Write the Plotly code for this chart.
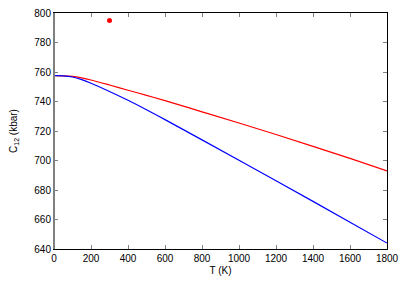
import plotly.graph_objects as go

T = [0, 50, 100, 150, 200, 300, 400, 500, 600, 800, 1000, 1200, 1400, 1600, 1800]
c12_red = [757.5, 757.4, 757.0, 756.0, 754.6, 751.2, 747.6, 744.2, 740.6, 733.0, 725.4, 717.6, 709.6, 701.4, 693.0]
c12_blue = [757.5, 757.4, 756.6, 754.8, 752.4, 746.8, 740.8, 734.4, 727.7, 714.0, 700.2, 686.3, 672.3, 658.2, 644.0]
pt_T = [300]
pt_c12 = [795]

xticks = list(range(0, 1801, 200))
yticks = list(range(640, 801, 20))

font = dict(family="Liberation Sans, Arial, sans-serif", size=10, color="black")

fig = go.Figure()
fig.add_trace(go.Scatter(x=T, y=c12_red, mode="lines", line=dict(color="#ff0000", width=1.2, shape="spline"), showlegend=False))
fig.add_trace(go.Scatter(x=T, y=c12_blue, mode="lines", line=dict(color="#0000ff", width=1.2, shape="spline"), showlegend=False))
fig.add_trace(go.Scatter(x=pt_T, y=pt_c12, mode="markers", marker=dict(color="#ff0000", size=5), showlegend=False))

fig.update_layout(
    width=399, height=277,
    margin=dict(l=46, r=20, t=5, b=36, autoexpand=False),
    paper_bgcolor="white", plot_bgcolor="white",
    font=font,
    xaxis=dict(range=[0, 1800], tickvals=xticks, ticks="inside", ticklen=4, tickcolor="#808080",
               showline=True, linecolor="black", linewidth=1, mirror="ticks",
               showgrid=False, zeroline=False, automargin=False, ticklabeloverflow="allow",
               title=dict(text="T (K)", font=font, standoff=3)),
    yaxis=dict(range=[640, 800], tickvals=yticks, ticks="inside", ticklen=4, tickcolor="#808080",
               showline=True, linecolor="black", linewidth=1, mirror="ticks",
               showgrid=False, zeroline=False, automargin=False, ticklabeloverflow="allow",
               title=dict(text="C<sub>12</sub> (kbar)", font=font, standoff=16)),
    shapes=[dict(type="line", xref="paper", yref="paper", x0=0, x1=0, y0=0, y1=1,
                 line=dict(color="#808080", width=2))],
)

fig.write_html("out.html")
